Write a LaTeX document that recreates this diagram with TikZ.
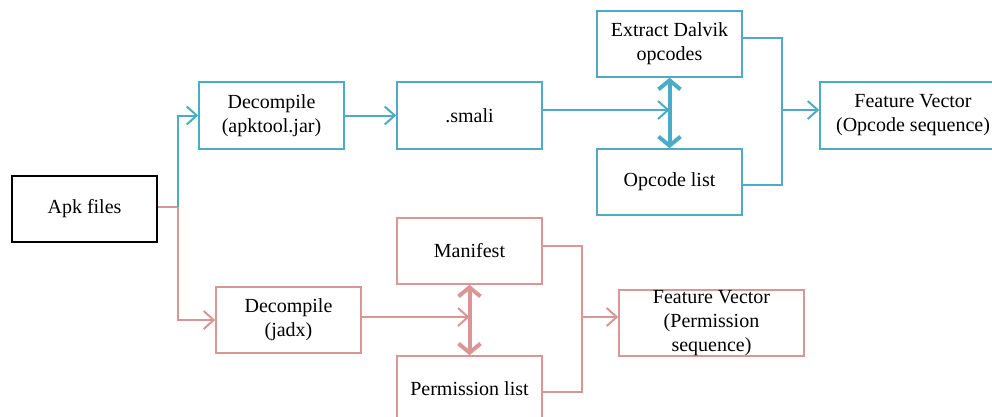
\documentclass[tikz,border=0pt]{standalone}
\usepackage{fontspec}
\setmainfont{Liberation Serif}
\usetikzlibrary{arrows.meta}
\definecolor{blueC}{HTML}{4BACC6}
\definecolor{pinkC}{HTML}{D99694}
\tikzset{
  boxbase/.style={line width=1.6pt, minimum width=145pt, minimum height=66pt, inner sep=0pt, align=center, font=\fontsize{20}{24}\selectfont},
  bbox/.style={boxbase, draw=blueC},
  pbox/.style={boxbase, draw=pinkC},
  kbox/.style={boxbase, draw=black, line width=2pt},
  conn/.style={line width=2pt},
  arr/.style={conn, -{Straight Barb[length=10pt,width=18pt]}},
  dbl/.style={line width=4pt, {Straight Barb[length=9pt,width=22pt]}-{Straight Barb[length=9pt,width=22pt]}},
  lbl/.style={align=center, inner sep=0pt, font=\fontsize{20}{24}\selectfont}
}
\begin{document}
\begin{tikzpicture}[x=1pt,y=-1pt]
\useasboundingbox (0,0) rectangle (992,416);
\clip (0,0) rectangle (992,416);
\fill[white] (0,0) rectangle (992,416);
% nodes
\node[kbox] (apk) at (84.5,209) {Apk files};
\node[bbox, minimum height=67pt] (dec1) at (271.5,115.5) {Decompile\\(apktool.jar)};
\node[bbox, minimum height=67pt] (smali) at (469.5,115.5) {.smali};
\node[bbox] (extract) at (669.5,44) {Extract Dalvik\\opcodes};
\node[bbox] (oplist) at (669.5,182) {Opcode list};
\node[bbox, minimum width=186pt, minimum height=67pt] (fv1) at (913,115.5) {Feature Vector\\(Opcode sequence)};
\node[pbox] (dec2) at (288.5,320) {Decompile\\(jadx)};
\node[pbox] (manifest) at (469.5,251) {Manifest};
\node[pbox] (perm) at (469.5,389) {Permission list};
\node[pbox, minimum width=185pt] (fv2) at (711.5,323) {};
\node[lbl] (fv2t) at (fv2.center) {Feature Vector\\(Permission\\sequence)};
% coordinates
\coordinate (split) at (178,207);
\coordinate (ja) at (667,110);
\coordinate (b1t) at (782,38);
\coordinate (b1b) at (782,185);
\coordinate (b1m) at (782,110);
\coordinate (jp) at (467,317);
\coordinate (b2t) at (582,246);
\coordinate (b2b) at (582,392);
\coordinate (b2m) at (582,317);
% pink branch
\draw[conn, pinkC] (apk.east |- split) -- (split);
\draw[arr, pinkC] (split) |- (dec2.west);
\draw[arr, pinkC] (dec2.east |- jp) -- (manifest.south |- jp);
\draw[dbl, pinkC] (manifest.south) -- (perm.north);
\draw[conn, pinkC] (manifest.east |- b2t) -- (b2t) -- (b2b) -- (perm.east |- b2b);
\draw[arr, pinkC] (b2m) -- (fv2.west |- b2m);
% blue branch
\draw[arr, blueC] (split) |- (dec1.west);
\draw[arr, blueC] (dec1.east) -- (smali.west);
\draw[dbl, blueC] (extract.south) -- (oplist.north);
\draw[arr, blueC] (smali.east |- ja) -- (extract.south |- ja);
\draw[conn, blueC] (extract.east |- b1t) -- (b1t) -- (b1b) -- (oplist.east |- b1b);
\draw[arr, blueC] (b1m) -- (fv1.west |- b1m);
\end{tikzpicture}
\end{document}
